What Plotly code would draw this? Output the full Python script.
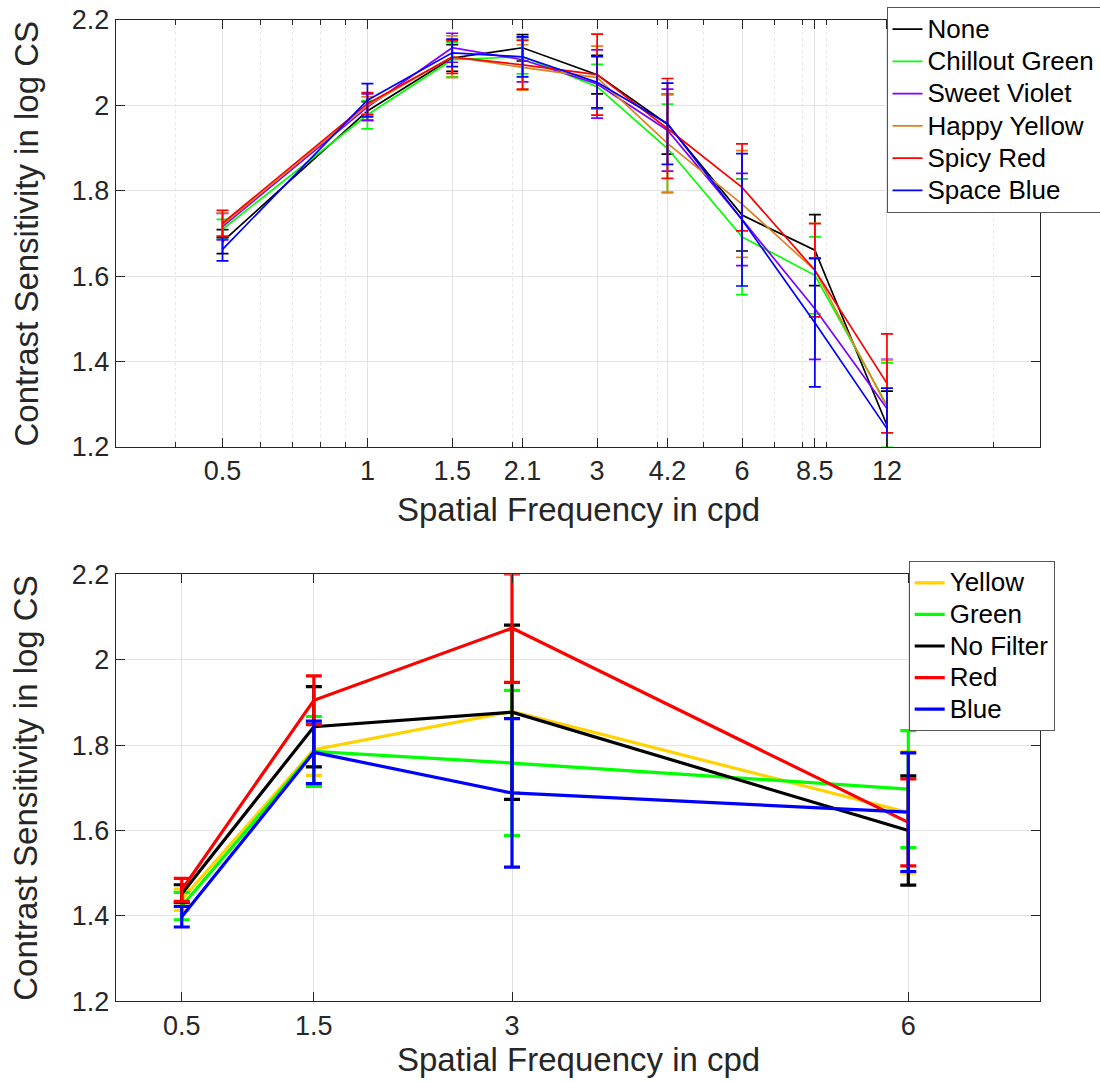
import plotly.graph_objects as go

# ---------------- data: top panel ----------------
sf_top = [0.5, 1, 1.5, 2.1, 3, 4.2, 6, 8.5, 12]
sf_top_labels = ["0.5", "1", "1.5", "2.1", "3", "4.2", "6", "8.5", "12"]
sf_top_minor = [0.4, 0.6, 0.7, 0.8, 0.9, 2, 4, 5, 7, 8, 9, 20]
top_names = ["None", "Chillout Green", "Sweet Violet", "Happy Yellow", "Spicy Red", "Space Blue"]
top_colors = ["#000000", "#00FF00", "#8000FF", "#DE821E", "#FF0000", "#0000FF"]

none_mean = [1.681, 1.987, 2.111, 2.135, 2.072, 1.956, 1.743, 1.661, 1.251]
none_err = [0.028, 0.022, 0.031, 0.031, 0.045, 0.070, 0.084, 0.083, 0.080]
green_mean = [1.710, 1.978, 2.107, 2.114, 2.044, 1.899, 1.692, 1.602, 1.298]
green_err = [0.023, 0.033, 0.040, 0.040, 0.052, 0.104, 0.135, 0.090, 0.099]
violet_mean = [1.716, 1.996, 2.135, 2.107, 2.050, 1.942, 1.733, 1.524, 1.290]
violet_err = [0.031, 0.031, 0.034, 0.052, 0.080, 0.096, 0.108, 0.119, 0.115]
yellow_mean = [1.720, 2.000, 2.114, 2.089, 2.065, 1.911, 1.769, 1.614, 1.294]
yellow_err = [0.028, 0.020, 0.049, 0.053, 0.074, 0.114, 0.125, 0.110, 0.110]
red_mean = [1.724, 2.004, 2.113, 2.095, 2.072, 1.946, 1.808, 1.614, 1.349]
red_err = [0.030, 0.026, 0.038, 0.057, 0.095, 0.117, 0.102, 0.109, 0.116]
blue_mean = [1.663, 2.012, 2.123, 2.114, 2.054, 1.957, 1.732, 1.491, 1.243]
blue_err = [0.027, 0.039, 0.032, 0.047, 0.060, 0.095, 0.155, 0.150, 0.095]

top_means = [none_mean, green_mean, violet_mean, yellow_mean, red_mean, blue_mean]
top_errs = [none_err, green_err, violet_err, yellow_err, red_err, blue_err]

# ---------------- data: bottom panel ----------------
sf_bot = [0.5, 1.5, 3, 6]
sf_bot_labels = ["0.5", "1.5", "3", "6"]
bot_names = ["Yellow", "Green", "No Filter", "Red", "Blue"]
bot_colors = ["#FFD200", "#00FF00", "#000000", "#FF0000", "#0000FF"]

yellow2_mean = [1.438, 1.789, 1.879, 1.642]
yellow2_err = [0.025, 0.060, 0.190, 0.142]
green2_mean = [1.423, 1.785, 1.758, 1.697]
green2_err = [0.032, 0.082, 0.170, 0.137]
nofilter_mean = [1.452, 1.843, 1.877, 1.600]
nofilter_err = [0.021, 0.094, 0.204, 0.128]
red2_mean = [1.461, 1.905, 2.074, 1.619]
red2_err = [0.027, 0.057, 0.127, 0.102]
blue2_mean = [1.398, 1.783, 1.688, 1.643]
blue2_err = [0.024, 0.073, 0.174, 0.139]

bot_means = [yellow2_mean, green2_mean, nofilter_mean, red2_mean, blue2_mean]
bot_errs = [yellow2_err, green2_err, nofilter_err, red2_err, blue2_err]

y_ticks = [1.2, 1.4, 1.6, 1.8, 2.0, 2.2]
y_ticklabels = ["1.2", "1.4", "1.6", "1.8", "2", "2.2"]

FONT = "Liberation Sans, Arial, sans-serif"
TXT = "#262626"
GRID = "#E3E3E3"
LEG_TXT = 26  # visible legend text size (px)


def leg_label(s):
    return '<span style="font-size:%dpx">%s</span>' % (LEG_TXT, s)


fig = go.Figure()

for name, col, m, e in zip(top_names, top_colors, top_means, top_errs):
    fig.add_trace(go.Scatter(
        x=sf_top, y=m, name=leg_label(name), mode="lines",
        line=dict(color=col, width=1.7),
        error_y=dict(type="data", array=e, visible=True, color=col, thickness=1.7, width=6),
        xaxis="x", yaxis="y", legend="legend",
    ))

for name, col, m, e in zip(bot_names, bot_colors, bot_means, bot_errs):
    fig.add_trace(go.Scatter(
        x=sf_bot, y=m, name=leg_label(name), mode="lines",
        line=dict(color=col, width=3.2),
        error_y=dict(type="data", array=e, visible=True, color=col, thickness=3.2, width=8),
        xaxis="x2", yaxis="y2", legend="legend2",
    ))

W, H = 1100, 1082
xl, xr = 115.7, 1040.4
top_t, top_b = 20.0, 447.0
bot_t, bot_b = 574.3, 1001.3

common_axis = dict(
    showline=True, linecolor=TXT, linewidth=1, mirror="allticks",
    ticks="inside", ticklen=9, tickcolor=TXT, tickwidth=1,
    showgrid=True, gridcolor=GRID, gridwidth=1, zeroline=False,
    tickfont=dict(family=FONT, size=27, color=TXT),
)

fig.update_layout(
    width=W, height=H,
    margin=dict(l=0, r=0, t=0, b=0, autoexpand=False),
    paper_bgcolor="white", plot_bgcolor="white",
    font=dict(family=FONT, color=TXT),
    xaxis=dict(
        type="log", range=[-0.5229, 1.3979], domain=[xl / W, xr / W],
        tickvals=sf_top, ticktext=sf_top_labels, anchor="y",
        minor=dict(tickvals=sf_top_minor, ticks="inside", ticklen=5, tickcolor=TXT,
                   showgrid=True, gridcolor="#E8E8E8", griddash="dot", gridwidth=1),
        **common_axis,
    ),
    yaxis=dict(
        range=[1.2, 2.2], domain=[1 - top_b / H, 1 - top_t / H],
        tickvals=y_ticks, ticktext=y_ticklabels, anchor="x",
        **common_axis,
    ),
    xaxis2=dict(
        range=[0, 7], domain=[xl / W, xr / W],
        tickvals=sf_bot, ticktext=sf_bot_labels, anchor="y2",
        **common_axis,
    ),
    yaxis2=dict(
        range=[1.2, 2.2], domain=[1 - bot_b / H, 1 - bot_t / H],
        tickvals=y_ticks, ticktext=y_ticklabels, anchor="x2",
        **common_axis,
    ),
    legend=dict(
        x=886.5 / W, y=1 - 7 / H, xanchor="left", yanchor="top",
        bgcolor="white", bordercolor="#555555", borderwidth=1,
        font=dict(family=FONT, size=22.5, color="#000000"),
        tracegroupgap=0, itemwidth=30,
    ),
    legend2=dict(
        x=908.7 / W, y=1 - 561 / H, xanchor="left", yanchor="top",
        bgcolor="white", bordercolor="#555555", borderwidth=1,
        font=dict(family=FONT, size=22, color="#000000"),
        tracegroupgap=0, itemwidth=30,
    ),
    showlegend=True,
)

title_font = dict(family=FONT, size=33, color=TXT)
fig.add_annotation(text="Spatial Frequency in cpd", x=(xl + xr) / 2 / W, y=1 - 509 / H,
                   xref="paper", yref="paper", showarrow=False, font=title_font,
                   xanchor="center", yanchor="middle")
fig.add_annotation(text="Spatial Frequency in cpd", x=(xl + xr) / 2 / W, y=1 - 1059 / H,
                   xref="paper", yref="paper", showarrow=False, font=title_font,
                   xanchor="center", yanchor="middle")
fig.add_annotation(text="Contrast Sensitivity in log CS", x=26 / W, y=1 - (top_t + top_b) / 2 / H,
                   xref="paper", yref="paper", showarrow=False, font=title_font, textangle=-90,
                   xanchor="center", yanchor="middle")
fig.add_annotation(text="Contrast Sensitivity in log CS", x=26 / W, y=1 - (bot_t + bot_b) / 2 / H,
                   xref="paper", yref="paper", showarrow=False, font=title_font, textangle=-90,
                   xanchor="center", yanchor="middle")

fig.write_html("out.html")
